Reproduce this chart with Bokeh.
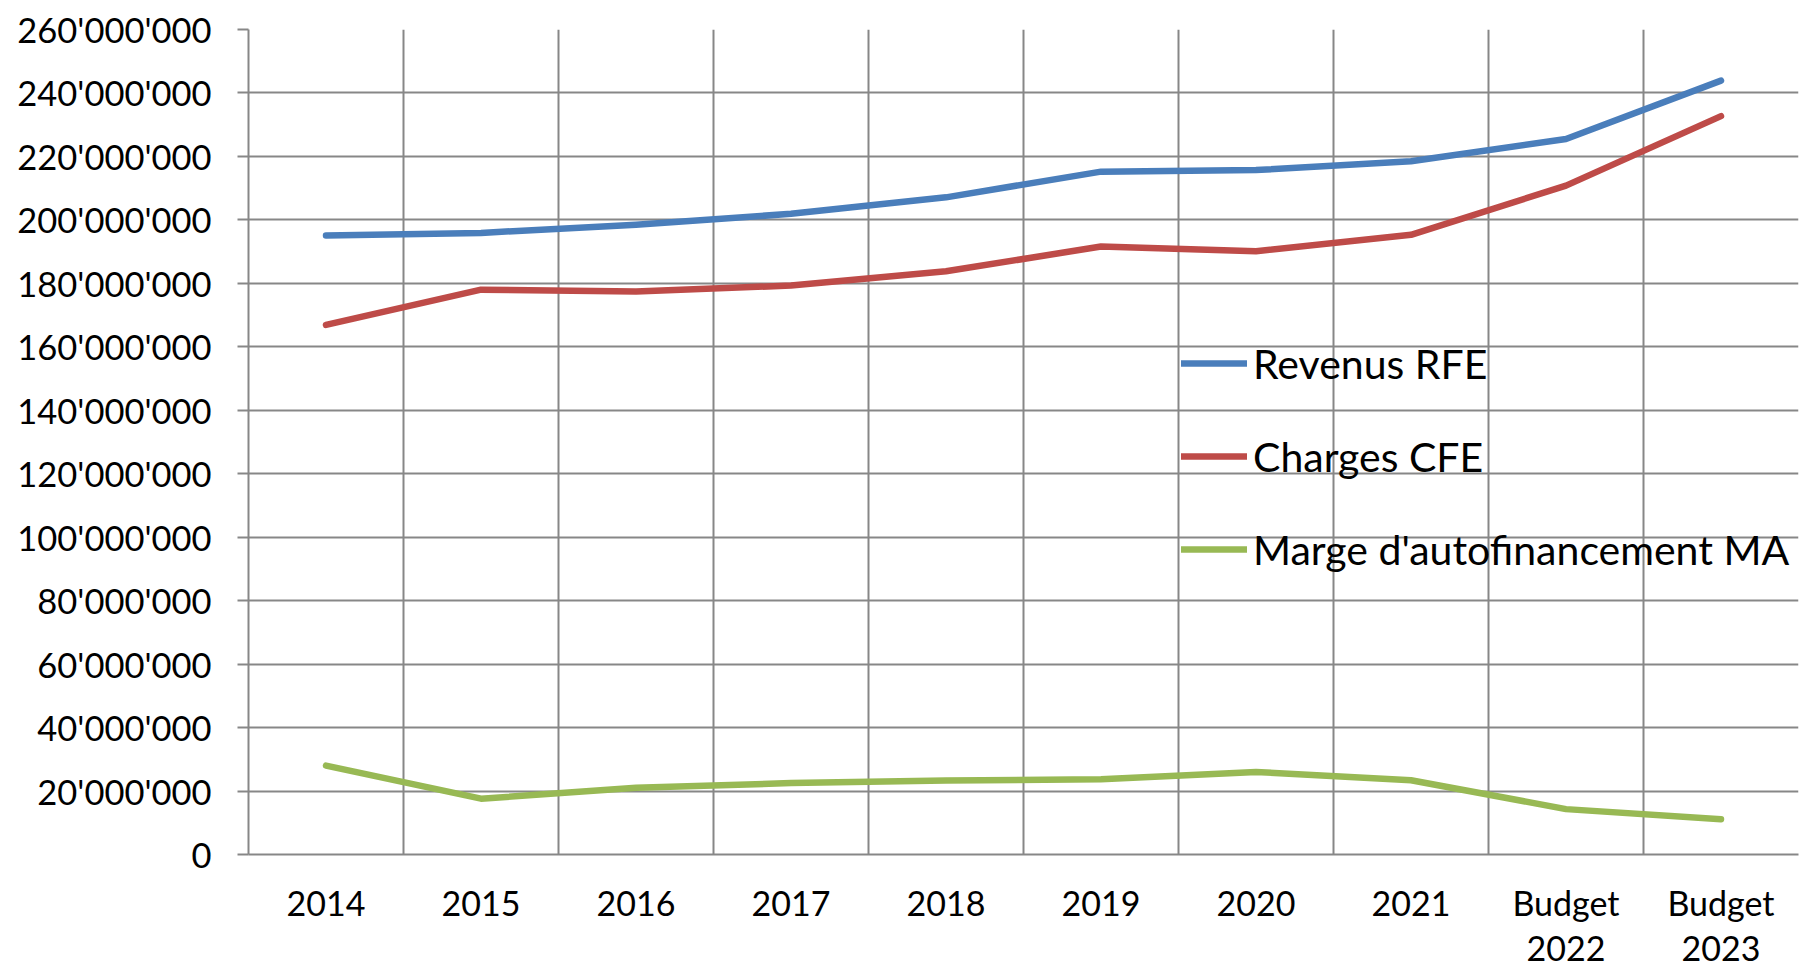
from bokeh.plotting import figure
from bokeh.models import Range1d, FixedTicker, Legend, LegendItem
from bokeh.embed import file_html
from bokeh.resources import INLINE

# ---- data ----
categories = ["2014", "2015", "2016", "2017", "2018", "2019", "2020", "2021",
              "Budget\n2022", "Budget\n2023"]
revenus_rfe = [195_100_000, 195_900_000, 198_500_000, 201_900_000, 207_100_000,
               215_200_000, 215_700_000, 218_500_000, 225_500_000, 243_900_000]
charges_cfe = [166_900_000, 178_000_000, 177_400_000, 179_300_000, 183_800_000,
               191_600_000, 190_100_000, 195_300_000, 210_800_000, 232_700_000]
marge_ma = [28_000_000, 17_600_000, 21_000_000, 22_500_000, 23_300_000,
            23_700_000, 26_000_000, 23_400_000, 14_300_000, 11_100_000]
series_names = ["Revenus RFE", "Charges CFE", "Marge d'autofinancement MA"]
y_ticks = [0, 20_000_000, 40_000_000, 60_000_000, 80_000_000, 100_000_000,
           120_000_000, 140_000_000, 160_000_000, 180_000_000, 200_000_000,
           220_000_000, 240_000_000, 260_000_000]
y_tick_labels = ["0", "20'000'000", "40'000'000", "60'000'000", "80'000'000",
                 "100'000'000", "120'000'000", "140'000'000", "160'000'000",
                 "180'000'000", "200'000'000", "220'000'000", "240'000'000",
                 "260'000'000"]

colors = ["#4A7EBB", "#BE4B48", "#98B954"]
GRID = "#878787"
FONT = "Lato"

xs = [i + 0.5 for i in range(len(categories))]

p = figure(width=1816, height=971, output_backend="svg", toolbar_location=None,
           x_range=Range1d(0, len(categories)), y_range=Range1d(0, 260_000_000),
           min_border_left=248, min_border_right=18, min_border_top=29,
           min_border_bottom=117)
p.outline_line_color = None
p.background_fill_color = "white"
p.border_fill_color = "white"

# axes
p.yaxis.ticker = FixedTicker(ticks=y_ticks)
p.yaxis.major_label_overrides = dict(zip(y_ticks, y_tick_labels))
p.yaxis.major_tick_out = 11
p.yaxis.major_tick_in = 0
p.yaxis.minor_tick_out = 0
p.yaxis.minor_tick_in = 0
p.yaxis.major_tick_line_color = GRID
p.yaxis.major_tick_line_width = 2
p.yaxis.axis_line_color = GRID
p.yaxis.axis_line_width = 2
p.yaxis.major_label_text_font = FONT
p.yaxis.major_label_text_font_size = "34.5px"
p.yaxis.major_label_text_color = "#000000"
p.yaxis.major_label_standoff = 26

p.xaxis.ticker = FixedTicker(ticks=xs)
p.xaxis.major_label_overrides = dict(zip(xs, categories))
p.xaxis.major_tick_out = 0
p.xaxis.major_tick_in = 0
p.xaxis.minor_tick_out = 0
p.xaxis.minor_tick_in = 0
p.xaxis.axis_line_color = GRID
p.xaxis.axis_line_width = 2
p.xaxis.major_label_text_font = FONT
p.xaxis.major_label_text_font_size = "34px"
p.xaxis.major_label_text_color = "#000000"
p.xaxis.major_label_standoff = 27
p.xaxis.major_label_text_line_height = 1.11

# grids
p.xgrid.ticker = FixedTicker(ticks=list(range(0, len(categories) + 1)))
p.ygrid.ticker = FixedTicker(ticks=y_ticks)
for g in (p.xgrid, p.ygrid):
    g.grid_line_color = GRID
    g.grid_line_width = 2

# lines
items = []
for name, vals, col in zip(series_names, [revenus_rfe, charges_cfe, marge_ma], colors):
    r = p.line(xs, vals, line_color=col, line_width=6.5, line_cap="round",
               line_join="round")
    items.append(LegendItem(label=name, renderers=[r]))

legend = Legend(items=items, location=(933, 280), padding=0, margin=0,
                spacing=43, glyph_width=66, glyph_height=50, label_height=50,
                label_standoff=6, label_text_font=FONT,
                label_text_font_size="41px", label_text_color="#000000",
                border_line_color=None, background_fill_alpha=0)
p.add_layout(legend, "center")

open("out.html", "w").write(file_html(p, INLINE))
